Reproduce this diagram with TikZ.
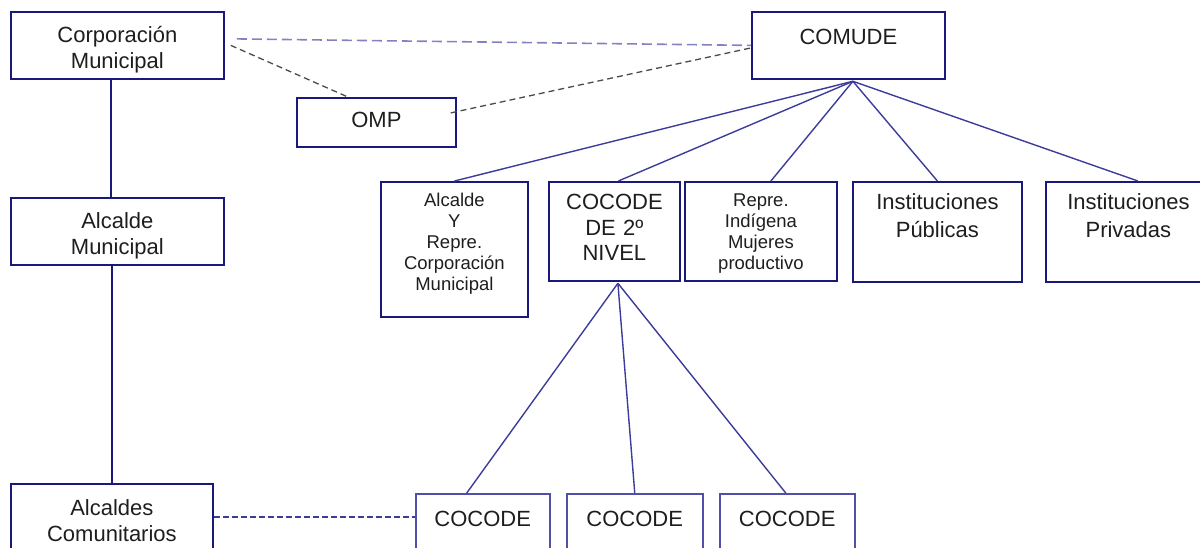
\documentclass[tikz,border=0pt]{standalone}
\usepackage{fontspec}
\setmainfont{Liberation Sans}
\usetikzlibrary{positioning}

\definecolor{marino}{RGB}{25,25,125}
\definecolor{azul}{RGB}{60,60,155}
\definecolor{azulclaro}{RGB}{80,80,170}
\definecolor{lila}{RGB}{130,130,195}
\definecolor{texto}{RGB}{30,30,30}

\newcommand{\grande}{\fontsize{22}{25.5}\selectfont}
\newcommand{\chico}{\fontsize{18.5}{21}\selectfont}

\begin{document}
\begin{tikzpicture}[
            x=1pt, y=-1pt,
            unit/.style={draw=marino, line width=1.8pt, inner sep=0pt,
                align=center, anchor=north west,
                text=texto, font=\grande
            },
            link/.style={draw=azul, line width=1.4pt},
            dashlink/.style={draw, line width=1.3pt, dash pattern=on 6pt off 4pt}
        ]
            \useasboundingbox (0,0) rectangle (1200,548);
            \clip (0,0) rectangle (1200,548);

            % Columna izquierda
            \node [unit, text width=213pt, text height=31pt, text depth=36pt] (corp) at (10,11) {Corporación\\Municipal};
            \node [unit, text width=213pt, text height=31pt, text depth=36pt] (alcalde) at (10,197) {Alcalde\\Municipal};
            \node [unit, text width=202pt, text height=32pt, text depth=48pt] (alcaldes) at (10,483) {Alcaldes\\Comunitarios};

            % COMUDE y OMP
            \node [unit, text width=193pt, text height=33pt, text depth=34pt] (comude) at (751,11) {COMUDE};
            \node [unit, text width=159pt, text height=30pt, text depth=19pt] (omp) at (296,97) {OMP};

            % Miembros del COMUDE
            \node [unit, font=\chico, text width=147pt, text height=25pt, text depth=110pt] (alcrep) at (380,181) {Alcalde\\Y\\Repre.\\Corporación\\Municipal};
            \node [unit, text width=131pt, text height=28pt, text depth=71pt] (cocode2) at (548,181) {COCODE\\DE 2º\\NIVEL};
            \node [unit, font=\chico, text width=152pt, text height=25pt, text depth=74pt] (indigena) at (684,181) {Repre.\\Indígena\\Mujeres\\productivo};
            \node [unit, font=\fontsize{22}{28}\selectfont, text width=169pt, text height=28pt, text depth=72pt] (publicas) at (852,181) {Instituciones\\Públicas};
            \node [unit, font=\fontsize{22}{28}\selectfont, text width=165pt, text height=28pt, text depth=72pt] (privadas) at (1045,181) {Instituciones\\Privadas};

            % COCODE comunitarios
            \node [unit, draw=azulclaro, line width=1.5pt, text width=134pt, text height=33pt, text depth=37pt] (cocodeA) at (415,493) {COCODE};
            \node [unit, draw=azulclaro, line width=1.5pt, text width=136pt, text height=33pt, text depth=37pt] (cocodeB) at (566,493) {COCODE};
            \node [unit, draw=azulclaro, line width=1.5pt, text width=135pt, text height=33pt, text depth=37pt] (cocodeC) at (719,493) {COCODE};

            % Lineas de autoridad
            \draw [draw=marino, line width=1.8pt] ([xshift=-6.5pt]corp.south) -- ([xshift=-6.5pt]alcalde.north);
            \draw [draw=marino, line width=1.8pt] (alcalde.south -| alcaldes.north) -- (alcaldes.north);

            \coordinate (fanA) at ([xshift=4.5pt,yshift=-1.5pt]comude.south);
            \path [link] (fanA) -- (alcrep.north);
            \path [link] (fanA) -- ([xshift=4pt]cocode2.north);
            \path [link] (fanA) -- ([xshift=10pt]indigena.north);
            \path [link] (fanA) -- (publicas.north);
            \path [link] (fanA) -- ([xshift=9.5pt]privadas.north);

            \coordinate (fanB) at ([xshift=3.5pt,yshift=-1.5pt]cocode2.south);
            \path [link] (fanB) -- ([xshift=-16pt]cocodeA.north);
            \path [link] (fanB) -- (cocodeB.north);
            \path [link] (fanB) -- ([xshift=-1.5pt]cocodeC.north);

            % Lineas de coordinacion (punteadas)
            \path [dashlink, draw=lila, line width=1.6pt, dash pattern=on 10pt off 5pt] ([shift={(12pt,6.5pt)}]corp.east) -- (comude.west);
            \path [dashlink, draw=texto!80] ([xshift=6pt]corp.east) -- ([xshift=-28.5pt]omp.north);
            \path [dashlink, draw=texto!80] ([shift={(-6pt,9.5pt)}]omp.east) -- ([yshift=-2.5pt]comude.west);
            \path [dashlink, draw=azul, dash pattern=on 6pt off 3pt] ([yshift=-34pt]alcaldes.north east) -- ([yshift=-24pt]cocodeA.north west);
        \end{tikzpicture}
\end{document}
